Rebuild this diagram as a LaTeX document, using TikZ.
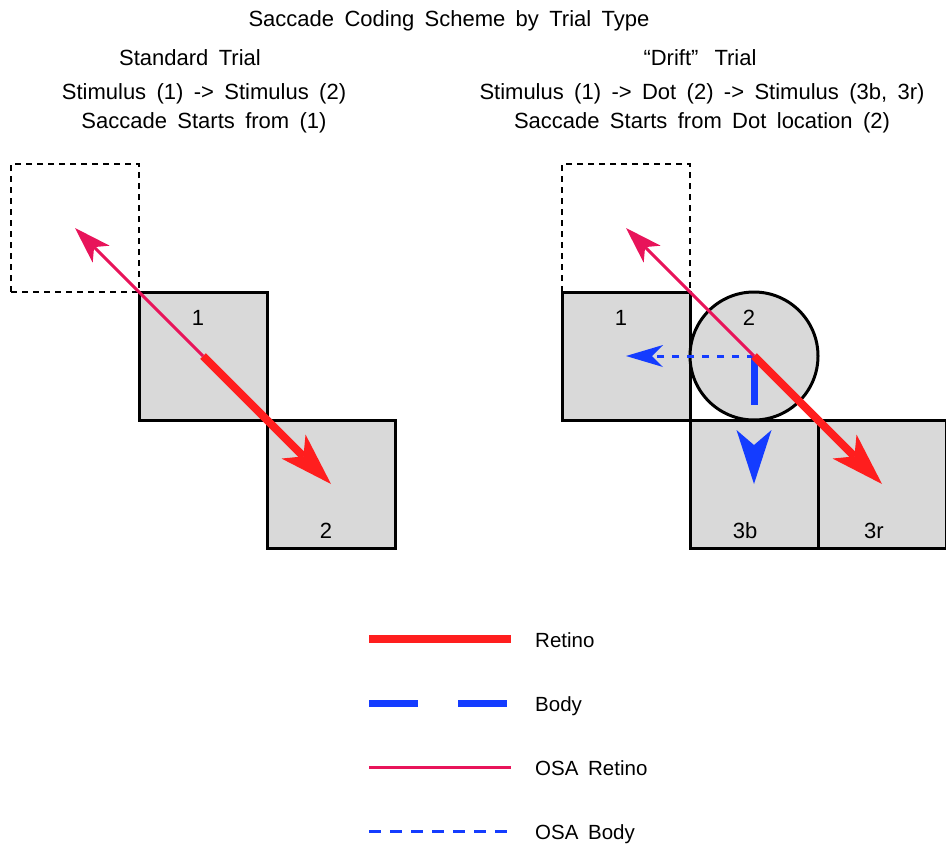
\documentclass[tikz,border=0pt]{standalone}
\usepackage{fontspec}
\setmainfont{Liberation Sans}[WordSpace=1.7]
\usetikzlibrary{arrows.meta}
\definecolor{rred}{RGB}{255,30,30}
\definecolor{rmag}{RGB}{232,20,90}
\definecolor{rblue}{RGB}{20,60,255}
\definecolor{boxgray}{RGB}{217,217,217}
\begin{document}
\begin{tikzpicture}[x=1pt,y=-1pt,
  stim/.style={draw=black,line width=3pt,fill=boxgray,minimum size=128pt,inner sep=0pt,outer sep=0pt},
  ghost/.style={draw=black,line width=1.8pt,dash pattern=on 6pt off 5pt,minimum size=128pt,inner sep=0pt,outer sep=0pt},
  dotc/.style={circle,draw=black,line width=3pt,fill=boxgray,minimum size=128pt,inner sep=0pt,outer sep=0pt},
  txt/.style={font=\fontsize{22}{25}\selectfont,anchor=base,inner sep=0pt},
  lgd/.style={font=\fontsize{20.5}{23}\selectfont,anchor=base west,inner sep=0pt},
  retino/.style={draw=rred,line width=8pt},
  body/.style={draw=rblue,line width=7pt,dash pattern=on 49pt off 40pt},
  osaretino/.style={draw=rmag,line width=3pt},
  osabody/.style={draw=rblue,line width=3pt,dash pattern=on 7.5pt off 7.5pt},
  osabodylg/.style={draw=rblue,line width=3pt,dash pattern=on 12pt off 9pt},
  redtip/.style={-{Stealth[length=53pt,width=34pt,inset=14pt,line width=0pt]}},
  bluetip/.style={-{Stealth[length=54pt,width=35pt,inset=15pt,line width=0pt]}},
  magtip/.style={-{Stealth[length=37pt,width=24pt,inset=10pt,line width=0pt]}},
  dashtip/.style={-{Stealth[length=37pt,width=22pt,inset=11pt,line width=0pt]}}
]
\useasboundingbox (0,0) rectangle (946,844);

% titles
\node[txt] (title) at (449,26) {Saccade Coding Scheme by Trial Type};
\node[txt] (lt1) at (190,65) {Standard Trial};
\node[txt] (lt2) at (204,99) {Stimulus (1) -> Stimulus (2)};
\node[txt] (lt3) at (204,128) {Saccade Starts from (1)};
\node[txt] (rt1) at (700,65) {“Drift”\hspace{16pt}Trial};
\node[txt] (rt2) at (702,99) {Stimulus (1) -> Dot (2) -> Stimulus (3b, 3r)};
\node[txt] (rt3) at (702,128) {Saccade Starts from Dot location (2)};

% left panel
\node[ghost] (d1) at (75,228) {};
\node[stim] (b1) at (203,356) {};
\node[stim] (b2) at (331,484) {};
\node[txt] (n1) at (198,325) {1};
\node[txt] (n2) at (326,538) {2};

% right panel
\node[ghost] (d2) at (626,228) {};
\node[stim] (r1) at (626,356) {};
\node[stim] (r3b) at (754,484) {};
\node[stim] (r3r) at (882,484) {};
\node[dotc] (c2) at (754,356) {};
\node[txt] (m1) at (621,325) {1};
\node[txt] (m2) at (749,325) {2};
\node[txt] (m3b) at (745,538) {3b};
\node[txt] (m3r) at (874,538) {3r};

% left arrows
\draw[retino,redtip] (b1.center) -- (b2.center);
\draw[osaretino,magtip] (b1.center) -- (d1.center);

% right arrows
\draw[osabody,dashtip] (c2.center) -- (r1.center);
\draw[body,bluetip] (c2.center) -- (r3b.center);
\draw[retino,redtip] (c2.center) -- (r3r.center);
\draw[osaretino,magtip] (c2.center) -- (d2.center);

% legend
\coordinate (la1) at (369,639); \coordinate (la2) at (511,639);
\coordinate (lb1) at (369,703); \coordinate (lb2) at (507,703);
\coordinate (lc1) at (369,767); \coordinate (lc2) at (511,767);
\coordinate (ld1) at (369,831); \coordinate (ld2) at (507,831);
\draw[retino] (la1) -- (la2);
\draw[body] (lb1) -- (lb2);
\draw[osaretino] (lc1) -- (lc2);
\draw[osabodylg] (ld1) -- (ld2);
\node[lgd] (ta) at (535,647) {Retino};
\node[lgd] (tb) at (535,711) {Body};
\node[lgd] (tc) at (535,775) {OSA Retino};
\node[lgd] (td) at (535,839) {OSA Body};
\end{tikzpicture}
\end{document}
